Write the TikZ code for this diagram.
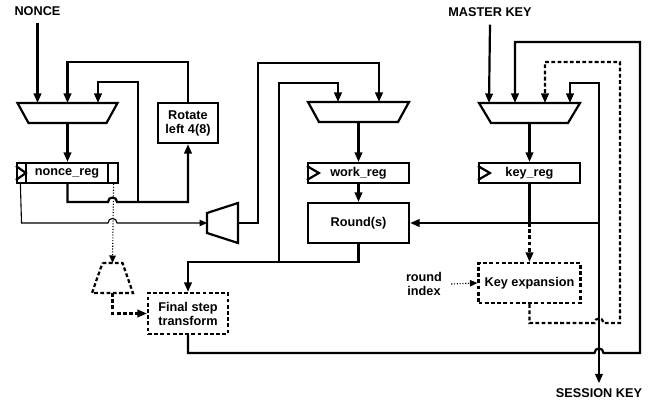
\documentclass[tikz,border=0pt]{standalone}
\usepackage{fontspec}
\setmainfont{Liberation Sans}
\usetikzlibrary{arrows.meta}
\begin{document}
\begin{tikzpicture}[x=1pt,y=-1pt,
  wire/.style={line width=2.2pt},
  thinwire/.style={line width=1.1pt},
  dotwire/.style={line width=1.1pt, dash pattern=on 1.1pt off 1.7pt},
  dashwire/.style={line width=2.2pt, dash pattern=on 3.8pt off 2.4pt},
  tip/.style={-{Triangle[length=9.5pt,width=7.5pt]}},
  smalltip/.style={-{Triangle[length=7.5pt,width=6.5pt]}},
  txt/.style={font=\bfseries\fontsize{12.7}{14}\selectfont, align=center},
  box/.style={draw, line width=2.2pt, inner sep=0pt, txt},
  dbox/.style={box, dash pattern=on 3.8pt off 2.4pt},
  lbl/.style={inner sep=0pt, txt},
  frame/.style={inner sep=0pt, outer sep=0pt, draw=none}
]
\useasboundingbox (0,0) rectangle (648,401);

% ---------- labels ----------
\node[lbl] (nonce) at (37.5,11) {NONCE};
\node[lbl] (mkey) at (490,12) {MASTER KEY};
\node[lbl] (skey) at (599,393) {SESSION KEY};
\node[lbl] (ridx) at (424,284) {round\\index};

% ---------- boxes ----------
\node[box, minimum width=60pt, minimum height=40pt] (rot) at (188,123) {Rotate\\left 4(8)};
\node[box, minimum width=101pt, minimum height=20pt] (nreg) at (67.5,173) {\hspace*{-1pt}nonce\_reg};
\node[box, minimum width=101pt, minimum height=20pt] (wreg) at (358.5,173) {work\_reg};
\node[box, minimum width=101pt, minimum height=20pt] (kreg) at (529.5,173) {key\_reg};
\node[box, minimum width=101pt, minimum height=40pt] (round) at (358.5,223) {Round(s)};
\node[dbox, minimum width=80pt, minimum height=41pt] (fin) at (188,313.5) {Final step\\transform};
\node[dbox, minimum width=102pt, minimum height=40pt] (kexp) at (529.5,283) {Key expansion};

% register details
\draw[wire] ([yshift=7pt]nreg.west) -- ([xshift=10pt]nreg.west) -- ([yshift=-7pt]nreg.west);
\draw[wire] ([xshift=10pt]nreg.north west) -- ([xshift=10pt]nreg.south west);
\draw[wire] ([xshift=-11pt]nreg.north east) -- ([xshift=-11pt]nreg.south east);
\draw[wire] ([yshift=7pt]wreg.west) -- ([xshift=12pt]wreg.west) -- ([yshift=-7pt]wreg.west);
\draw[wire] ([yshift=7pt]kreg.west) -- ([xshift=12pt]kreg.west) -- ([yshift=-7pt]kreg.west);

% ---------- multiplexers ----------
\node[frame, minimum width=100pt, minimum height=20pt] (mux1) at (67.5,113) {};
\draw[wire] (mux1.north west) -- (mux1.north east) -- ([xshift=-11pt]mux1.south east) -- ([xshift=11pt]mux1.south west) -- cycle;
\node[frame, minimum width=101pt, minimum height=20pt] (mux3) at (358.5,112) {};
\draw[wire] (mux3.north west) -- (mux3.north east) -- ([xshift=-11pt]mux3.south east) -- ([xshift=11pt]mux3.south west) -- cycle;
\node[frame, minimum width=101pt, minimum height=20pt] (mux4) at (529.5,113) {};
\draw[wire] (mux4.north west) -- (mux4.north east) -- ([xshift=-12pt]mux4.south east) -- ([xshift=12pt]mux4.south west) -- cycle;
\node[frame, minimum width=31pt, minimum height=40pt] (mux2) at (222.5,223) {};
\draw[wire] (mux2.north east) -- (mux2.south east) -- ([yshift=10pt]mux2.south west) -- ([yshift=-10pt]mux2.north west) -- cycle;
\node[frame, minimum width=41pt, minimum height=30pt] (mux5) at (112.5,278) {};
\draw[dashwire] ([xshift=10.5pt]mux5.north west) -- ([xshift=-10.5pt]mux5.north east) -- (mux5.south east) -- (mux5.south west) -- cycle;

% ---------- nonce part ----------
\draw[wire,tip] ([yshift=-7pt]nonce.south) -- (nonce.south |- mux1.north);
\draw[wire,tip] (rot.north) -- (188,62) -- (67.5,62) -- (mux1.north);
\draw[wire,tip] (138,202) -- (138,82) -- (98,82) -- (98,103);
\draw[wire,tip] (mux1.south) -- (nreg.north);
\draw[wire,tip] (nreg.south) -- (67.5,202) -- (108,202) .. controls (108,196) and (117,196) .. (117,202) -- (188,202) -- (rot.south);
\draw[thinwire,smalltip] ([xshift=4.5pt]nreg.south west) -- (21.5,223) -- (108,223) .. controls (108,217) and (117,217) .. (117,223) -- (mux2.west);
\draw[dotwire,smalltip] ([xshift=-5.5pt]nreg.south east) -- (mux5.north);
\draw[dashwire,tip] (mux5.south) -- (112.5,313.5) -- (fin.west);

% ---------- work part ----------
\draw[wire,tip] (mux2.east) -- (258,223) -- (258,63) -- (379,63) -- (379,102);
\draw[wire,tip] (round.south) -- (358.5,262) -- (188,262) -- (fin.north);
\draw[wire,tip] (279,262) -- (279,83) -- (338,83) -- (338,102);
\draw[wire,tip] (mux3.south) -- (wreg.north);
\draw[wire,tip] (wreg.south) -- (round.north);

% ---------- key part ----------
\draw[wire,tip] ([yshift=-8pt]mkey.south) -- (489,103);
\draw[wire,tip] (mux4.south) -- (kreg.north);
\draw[wire] (kreg.south) -- (529.5,223);
\draw[wire,tip] (599,223) -- (round.east);
\draw[wire,tip] (599,223) -- (599,83) -- (570,83) -- (570,103);
\draw[wire,tip] (599,223) -- ([yshift=5pt]skey.north);
\draw[dashwire,tip] (529.5,223) -- (kexp.north);
\draw[dotwire,smalltip] ([xshift=9pt]ridx.east) -- (kexp.west);
\draw[wire,tip] (fin.south) -- (188,353) -- (594.5,353) .. controls (594.5,347) and (603.5,347) .. (603.5,353) -- (640,353) -- (640,42) -- (515,42) -- (515,103);
\draw[dashwire,tip] (kexp.south) -- (529.5,323) -- (594.5,323) .. controls (594.5,317) and (603.5,317) .. (603.5,323) -- (620,323) -- (620,62) -- (545,62) -- (545,103);
\end{tikzpicture}
\end{document}
